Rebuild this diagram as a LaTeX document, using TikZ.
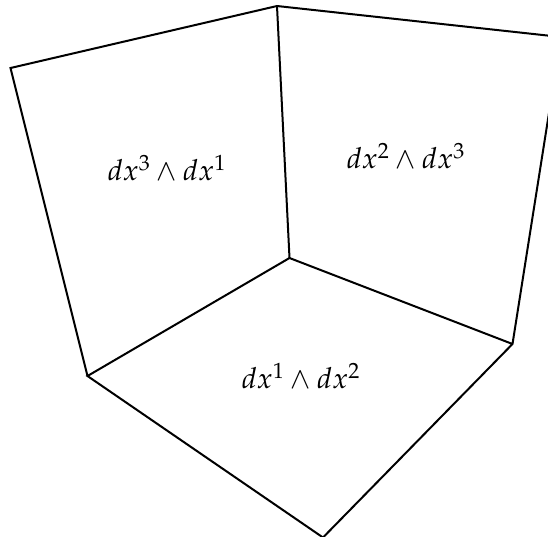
\documentclass[tikz,border=0pt]{standalone}
\usepackage{mathpazo}
\begin{document}
\begin{tikzpicture}[x=0.5pt,y=-0.5pt,
  edge/.style={line width=1pt,line join=miter},
  lbl/.style={font=\fontsize{14.5}{17}\selectfont,inner sep=0pt}]
\useasboundingbox (0,0) rectangle (548,537);
\clip (0,0) rectangle (548,537);
\coordinate (TL) at (10.5,68);
\coordinate (TM) at (277,6);
\coordinate (TR) at (561,37);
\coordinate (O) at (289.5,258);
\coordinate (L) at (87.5,376);
\coordinate (R) at (512.5,344);
\coordinate (B) at (323,537.5);
\draw[edge] (L) -- (TL) -- (TM) -- (TR) -- (R) -- (B) -- (L) -- (O) -- (R);
\draw[edge] (TM) -- (O);
\node[lbl] (w31) at (167,168) {$dx^3\wedge dx^1$};
\node[lbl] (w23) at (406,156) {$dx^2\wedge dx^3$};
\node[lbl] (w12) at (301,376) {$dx^1\wedge dx^2$};
\end{tikzpicture}
\end{document}
